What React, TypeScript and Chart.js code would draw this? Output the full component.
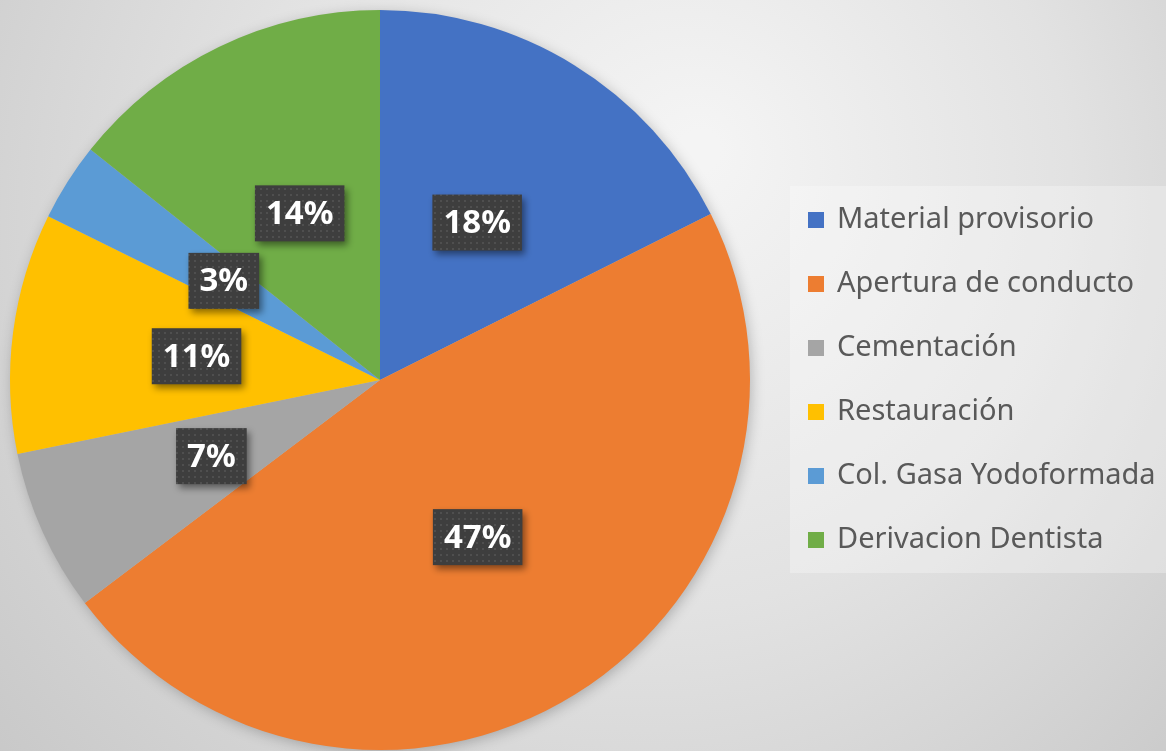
import React, { useEffect, useRef } from "react";
import { Chart, registerables } from "chart.js";

Chart.register(...registerables);

const categories = [
  "Material provisorio",
  "Apertura de conducto",
  "Cementación",
  "Restauración",
  "Col. Gasa Yodoformada",
  "Derivacion Dentista",
];
const shares = [17.6, 47.1, 7.1, 10.5, 3.4, 14.3];
const sliceColors = ["#4472C4", "#ED7D31", "#A5A5A5", "#FFC000", "#5B9BD5", "#70AD47"];

const W = 1166;
const H = 751;

function makePattern(ctx: CanvasRenderingContext2D) {
  const c = document.createElement("canvas");
  c.width = 6;
  c.height = 6;
  const p = c.getContext("2d")!;
  p.fillStyle = "#3e3e3e";
  p.fillRect(0, 0, 6, 6);
  p.fillStyle = "#4f4f4f";
  p.fillRect(2, 2, 2, 2);
  return ctx.createPattern(c, "repeat");
}

const bgPlugin = {
  id: "bgGradient",
  beforeDraw(chart: any) {
    const ctx = chart.ctx as CanvasRenderingContext2D;
    ctx.save();
    const g = ctx.createRadialGradient(700, 150, 20, 600, 250, 900);
    g.addColorStop(0, "#f4f4f4");
    g.addColorStop(0.45, "#e2e2e2");
    g.addColorStop(1, "#c2c2c2");
    ctx.fillStyle = g;
    ctx.fillRect(0, 0, chart.width, chart.height);
    ctx.restore();
  },
  beforeDatasetsDraw(chart: any) {
    const meta = chart.getDatasetMeta(0);
    const a = meta.data[0];
    if (!a) return;
    const ctx = chart.ctx as CanvasRenderingContext2D;
    ctx.save();
    ctx.shadowColor = "rgba(0,0,0,0.25)";
    ctx.shadowBlur = 14;
    ctx.shadowOffsetX = 2;
    ctx.shadowOffsetY = 3;
    ctx.fillStyle = "#bbbbbb";
    ctx.beginPath();
    ctx.arc(a.x, a.y, a.outerRadius - 1, 0, Math.PI * 2);
    ctx.fill();
    ctx.restore();
  },
};

const labelPlugin = {
  id: "boxLabels",
  afterDatasetsDraw(chart: any) {
    const ctx = chart.ctx as CanvasRenderingContext2D;
    const meta = chart.getDatasetMeta(0);
    const data = chart.data.datasets[0].data as number[];
    const total = data.reduce((s, v) => s + v, 0);
    const pattern = makePattern(ctx);
    ctx.save();
    ctx.font = "bold 33px 'Noto Sans'";
    ctx.textAlign = "center";
    ctx.textBaseline = "middle";
    meta.data.forEach((arc: any, i: number) => {
      const pt = arc.getCenterPoint();
      const txt = Math.round((data[i] / total) * 100) + "%";
      const tw = ctx.measureText(txt).width;
      const bw = tw + 22;
      const bh = 56;
      const x = pt.x - bw / 2;
      const y = pt.y - bh / 2;
      ctx.save();
      ctx.shadowColor = "rgba(0,0,0,0.45)";
      ctx.shadowBlur = 7;
      ctx.shadowOffsetX = 3;
      ctx.shadowOffsetY = 4;
      ctx.fillStyle = pattern || "#404040";
      ctx.fillRect(x, y, bw, bh);
      ctx.restore();
      ctx.fillStyle = "#ffffff";
      ctx.fillText(txt, pt.x, pt.y + 1);
    });
    ctx.restore();
  },
};

const legendPlugin = {
  id: "sideLegend",
  afterDraw(chart: any) {
    const ctx = chart.ctx as CanvasRenderingContext2D;
    const labels = chart.data.labels as string[];
    const colors = chart.data.datasets[0].backgroundColor as string[];
    ctx.save();
    ctx.fillStyle = "rgba(255,255,255,0.28)";
    ctx.fillRect(790, 186, 376, 387);
    ctx.font = "29px 'Noto Sans'";
    ctx.textBaseline = "middle";
    ctx.textAlign = "left";
    const y0 = 220;
    const step = 64;
    labels.forEach((lab, i) => {
      const y = y0 + i * step;
      ctx.fillStyle = colors[i];
      ctx.fillRect(808, y - 8, 16, 16);
      ctx.fillStyle = "#595959";
      ctx.fillText(lab, 837, y);
    });
    ctx.restore();
  },
};

export default function App() {
  const ref = useRef<HTMLCanvasElement | null>(null);
  useEffect(() => {
    document.body.style.margin = "0";
    const canvas = ref.current!;
    const chart = new Chart(canvas, {
      type: "pie",
      data: {
        labels: categories,
        datasets: [
          {
            data: shares,
            backgroundColor: sliceColors,
            borderWidth: 0,
          },
        ],
      },
      options: {
        responsive: false,
        animation: false,
        layout: { padding: { left: 10, top: 10, right: W - 750, bottom: 1 } },
        plugins: {
          legend: { display: false },
          tooltip: { enabled: false },
        },
      },
      plugins: [bgPlugin, labelPlugin, legendPlugin],
    });
    return () => chart.destroy();
  }, []);
  return (
    <div style={{ width: W, height: H }}>
      <canvas ref={ref} width={W} height={H} style={{ display: "block" }} />
    </div>
  );
}
